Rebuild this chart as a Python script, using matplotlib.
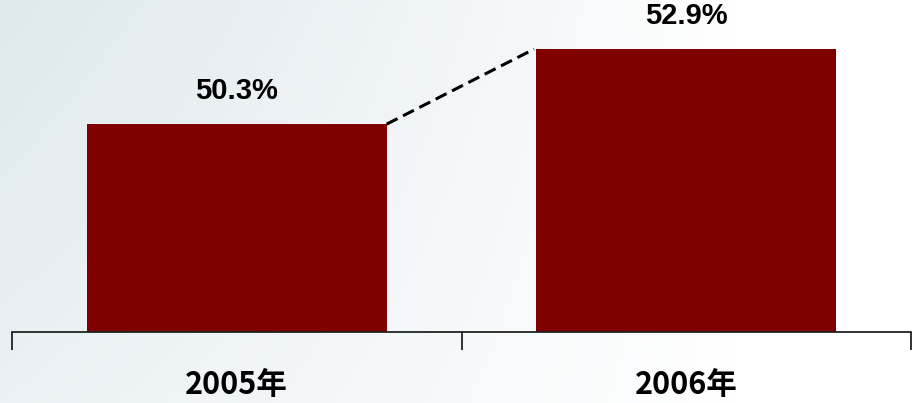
import matplotlib
matplotlib.use('Agg')
import matplotlib.pyplot as plt
import numpy as np

# 데이터
years = ['2005年', '2006年']
values = [50.3, 52.9]
labels = ['50.3%', '52.9%']

fig = plt.figure(figsize=(9.13, 4.03), dpi=100)

# 배경 그라데이션 (왼쪽 회청색 -> 오른쪽 흰색)
bg = fig.add_axes([0, 0, 1, 1], zorder=0)
xx = np.linspace(0, 1, 300)
yy = np.linspace(0, 1, 150)
X, Y = np.meshgrid(xx, yy)
w = np.clip(1 - X / 0.8, 0, 1) ** 0.9 * (0.6 + 0.4 * (1 - Y))
base = np.array([0.87, 0.91, 0.93])
img = 1 - w[..., None] * (1 - base)
bg.imshow(img, aspect='auto', extent=[0, 1, 0, 1], origin='upper')
bg.axis('off')

ax = fig.add_axes([12 / 913, 1 - 332 / 403, 899 / 913, 332 / 403], zorder=1)
ax.patch.set_alpha(0)

x = np.arange(len(values))
bw = 0.667
ax.bar(x, values, width=bw, color='#800000', bottom=0)
ax.set_xlim(-0.5, 1.5)
ax.set_ylim(43.1, 54.6)

# 막대 사이 점선
ax.plot([x[0] + bw / 2, x[1] - bw / 2 - 0.005], [values[0], values[1]],
        color='black', linestyle=(0, (4, 2)), linewidth=2.2)

for xi, v, lab in zip(x, values, labels):
    ax.annotate(lab, (xi, v), xytext=(0, 14), textcoords='offset points',
                ha='center', va='bottom', fontsize=21, fontweight='bold',
                family=['Liberation Sans', 'DejaVu Sans'], color='black')

for s in ['top', 'right', 'left']:
    ax.spines[s].set_visible(False)
ax.spines['bottom'].set_linewidth(1.3)
ax.spines['bottom'].set_color('#222222')
ax.set_yticks([])
ax.set_xticks([-0.5, 0.5, 1.5])
ax.set_xticklabels([])
ax.tick_params(axis='x', length=13, width=1.3, color='#222222', direction='out')

for xi, yr in zip(x, years):
    ax.text(xi, -0.16, yr, transform=ax.get_xaxis_transform(),
            ha='center', va='center', fontsize=22, fontweight='bold',
            family=['Noto Sans CJK SC', 'DejaVu Sans'])

fig.savefig('out.png', dpi=100)
